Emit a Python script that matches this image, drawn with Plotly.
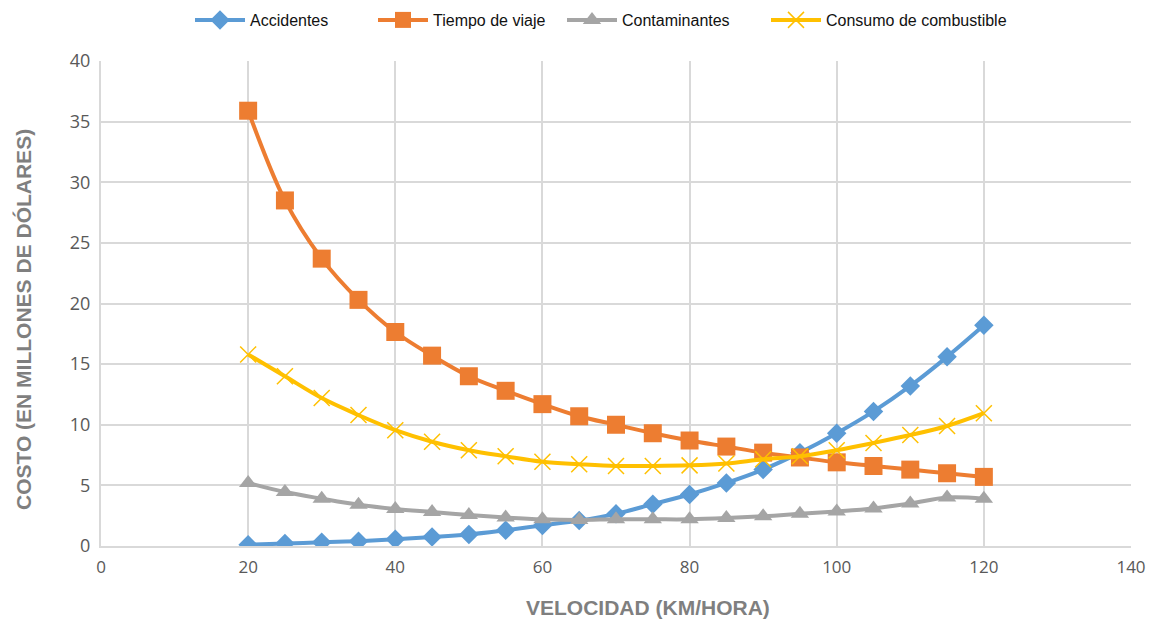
import plotly.graph_objects as go

velocidad = [20, 25, 30, 35, 40, 45, 50, 55, 60, 65, 70, 75, 80, 85, 90, 95, 100, 105, 110, 115, 120]
accidentes = [0.1, 0.2, 0.3, 0.4, 0.55, 0.75, 0.95, 1.3, 1.7, 2.1, 2.65, 3.45, 4.25, 5.2, 6.3, 7.7, 9.3, 11.1, 13.2, 15.6, 18.2]
tiempo = [35.9, 28.5, 23.7, 20.3, 17.65, 15.7, 14.0, 12.8, 11.7, 10.7, 10.0, 9.3, 8.7, 8.2, 7.7, 7.3, 6.9, 6.6, 6.3, 6.0, 5.7]
contaminantes = [5.2, 4.45, 3.9, 3.4, 3.05, 2.8, 2.55, 2.35, 2.2, 2.15, 2.2, 2.2, 2.2, 2.3, 2.45, 2.65, 2.85, 3.1, 3.5, 4.0, 3.9]
consumo = [15.8, 14.0, 12.2, 10.8, 9.55, 8.6, 7.9, 7.4, 6.95, 6.75, 6.6, 6.6, 6.65, 6.8, 7.15, 7.4, 7.9, 8.5, 9.15, 9.9, 10.95]

x_ticks = [0, 20, 40, 60, 80, 100, 120, 140]
y_ticks = [0, 5, 10, 15, 20, 25, 30, 35, 40]

W, H = 1159, 623

fig = go.Figure()
fig.add_trace(go.Scatter(x=velocidad, y=accidentes, name="Accidentes", mode="lines+markers", legend="legend",
                         line=dict(color="#5B9BD5", width=4, shape="spline"),
                         marker=dict(symbol="diamond", size=15, color="#5B9BD5")))
fig.add_trace(go.Scatter(x=velocidad, y=tiempo, name="Tiempo de viaje", mode="lines+markers", legend="legend2",
                         line=dict(color="#ED7D31", width=4, shape="spline"),
                         marker=dict(symbol="square", size=18, color="#ED7D31")))
fig.add_trace(go.Scatter(x=velocidad, y=contaminantes, name="Contaminantes", mode="lines+markers", legend="legend3",
                         line=dict(color="#A5A5A5", width=4, shape="spline"),
                         marker=dict(symbol="triangle-up", size=16, color="#A5A5A5")))
fig.add_trace(go.Scatter(x=velocidad, y=consumo, name="Consumo de combustible", mode="lines+markers", legend="legend4",
                         line=dict(color="#FFC000", width=4, shape="spline"),
                         marker=dict(symbol="x-thin", size=16, color="#FFC000",
                                     line=dict(color="#FFC000", width=1.5))))

def leg(xpx):
    return dict(orientation="h", x=xpx / W, xanchor="left", y=1 - 3 / H, yanchor="top",
                xref="container", yref="container", itemwidth=50,
                font=dict(size=16, color="#111111"), bgcolor="rgba(0,0,0,0)")

fig.update_layout(
    width=W, height=H,
    margin=dict(l=101, r=28, t=61, b=77),
    paper_bgcolor="white", plot_bgcolor="white",
    font=dict(family="Liberation Sans, Arial", color="#595959"),
    legend=leg(190), legend2=leg(373), legend3=leg(562), legend4=leg(766),
    showlegend=True,
)
fig.update_xaxes(range=[0, 140], tickvals=x_ticks, showgrid=True, gridcolor="#D9D9D9", gridwidth=2,
                 zeroline=False, showline=True, linecolor="#D9D9D9", linewidth=2, automargin=False,
                 tickfont=dict(family="Open Sans", size=17, color="#595959"), ticks="",
                 ticklabelstandoff=5)
fig.update_yaxes(range=[0, 40], tickvals=y_ticks, showgrid=True, gridcolor="#D9D9D9", gridwidth=2,
                 zeroline=False, showline=True, linecolor="#D9D9D9", linewidth=2, automargin=False,
                 tickfont=dict(family="Open Sans", size=18, color="#595959"), ticks="",
                 ticklabelstandoff=5)

fig.add_annotation(text="<b>VELOCIDAD (KM/HORA)</b>", xref="paper", yref="paper",
                   x=(648 - 101) / 1030, y=-(607 - 546) / 485, xanchor="center", yanchor="middle",
                   showarrow=False, font=dict(size=21, color="#7F7F7F"))
fig.add_annotation(text="<b>COSTO (EN MILLONES DE DÓLARES)</b>", xref="paper", yref="paper",
                   x=-(101 - 23) / 1030, y=(546 - 320) / 485, xanchor="center", yanchor="middle",
                   textangle=-90, showarrow=False, font=dict(size=21, color="#7F7F7F"))

fig.write_html("out.html")
